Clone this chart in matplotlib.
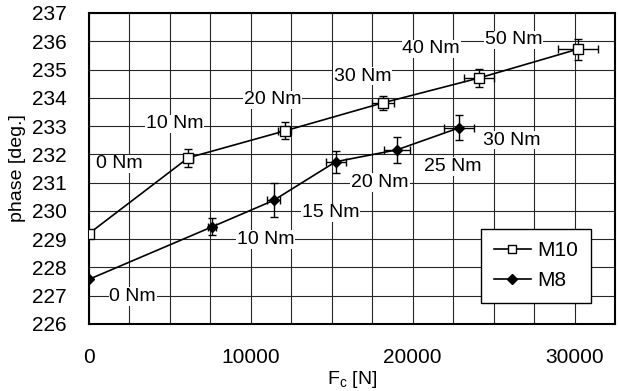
import matplotlib
matplotlib.use("Agg")
import matplotlib.pyplot as plt
from matplotlib.lines import Line2D

plt.rcParams['font.family'] = ['Liberation Sans', 'DejaVu Sans']

# M10 bolt (open squares)
m10_force = [0, 6140, 12100, 18150, 24100, 30200]
m10_phase = [229.2, 231.88, 232.83, 233.82, 234.7, 235.72]
m10_xerr = [0, 300, 400, 680, 930, 1240]
m10_yerr = [0, 0.32, 0.3, 0.25, 0.32, 0.37]
m10_labels = ["0 Nm", "10 Nm", "20 Nm", "30 Nm", "40 Nm", "50 Nm"]
m10_label_x = [1900, 5300, 11330, 16900, 21150, 26240]
m10_label_y = [231.66, 233.08, 233.93, 234.77, 235.73, 236.05]

# M8 bolt (filled diamonds)
m8_force = [0, 7620, 11400, 15250, 19030, 22880]
m8_phase = [227.58, 229.44, 230.37, 231.74, 232.16, 232.94]
m8_xerr = [0, 250, 400, 620, 780, 930]
m8_yerr = [0, 0.3, 0.6, 0.39, 0.46, 0.45]
m8_labels = ["0 Nm", "10 Nm", "15 Nm", "20 Nm", "25 Nm", "30 Nm"]
m8_label_x = [2700, 10900, 14940, 17980, 22500, 26100]
m8_label_y = [226.97, 228.98, 229.93, 231.0, 231.57, 232.5]

fig = plt.figure(figsize=(6.19, 3.91), dpi=100)
ax = fig.add_axes([0.1438, 0.1714, 0.8497, 0.7954])

ax.errorbar(m10_force, m10_phase, xerr=m10_xerr, yerr=m10_yerr, color='black',
            marker='s', markersize=7, markerfacecolor='white', markeredgecolor='black',
            lw=1.2, elinewidth=1.0, capsize=3, zorder=4)
ax.errorbar(m8_force, m8_phase, xerr=m8_xerr, yerr=m8_yerr, color='black',
            marker='D', markersize=5.5, markerfacecolor='black',
            lw=1.2, elinewidth=1.0, capsize=3, zorder=4)

for t, x, y in zip(m10_labels, m10_label_x, m10_label_y):
    ax.text(x, y, t, ha='center', va='center', fontsize=14, zorder=3,
            bbox=dict(facecolor='white', edgecolor='none', pad=0.5))
for t, x, y in zip(m8_labels, m8_label_x, m8_label_y):
    ax.text(x, y, t, ha='center', va='center', fontsize=14, zorder=3,
            bbox=dict(facecolor='white', edgecolor='none', pad=0.5))

ax.set_xlim(0, 32500)
ax.set_ylim(226, 237)
ax.set_xticks(range(0, 32501, 2500))
ax.set_xticklabels([str(v) if v % 10000 == 0 else '' for v in range(0, 32501, 2500)])
ax.set_yticks(range(226, 238))
ax.tick_params(length=0, labelsize=15, pad=16)
ax.tick_params(axis='x', pad=17)
ax.grid(True, color='0.15', lw=0.8)
ax.set_axisbelow(True)
for s in ax.spines.values():
    s.set_linewidth(1.5)

ax.set_xlabel('F$_\\mathregular{c}$ [N]', fontsize=14, labelpad=2)
ax.set_ylabel('phase [deg.]', fontsize=14, labelpad=4)

handles = [
    Line2D([], [], color='black', lw=1.2, marker='s', markersize=6,
           markerfacecolor='white', markeredgecolor='black'),
    Line2D([], [], color='black', lw=1.2, marker='D', markersize=5,
           markerfacecolor='black'),
]
leg = ax.legend(handles, ['M10', 'M8'], loc='lower right',
                bbox_to_anchor=(0.954, 0.0675), borderaxespad=0, fontsize=15,
                fancybox=False, framealpha=1, edgecolor='black', borderpad=0.6,
                labelspacing=0.55, handlelength=1.8, handletextpad=0.3)
leg.get_frame().set_linewidth(1.0)

fig.savefig('out.png', dpi=100)
